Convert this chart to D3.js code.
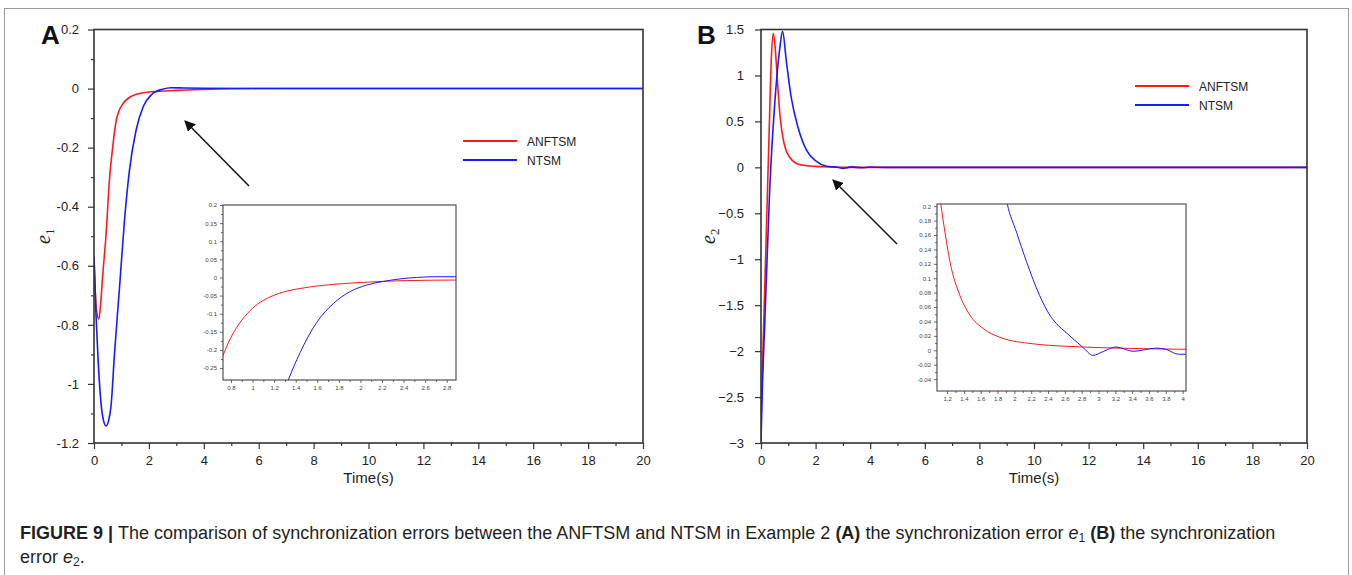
<!DOCTYPE html>
<html>
<head>
<meta charset="utf-8">
<script src="https://cdn.jsdelivr.net/npm/d3@7"></script>
<style>
  body { margin: 0; background: #fff; }
  svg { display: block; font-family: "Liberation Sans", Arial, sans-serif; }
</style>
</head>
<body>
<svg id="figure" width="1352" height="575"></svg>
<script>
// ---- data ----
var timeTicks = [0, 2, 4, 6, 8, 10, 12, 14, 16, 18, 20];
var timeMinor = [1, 3, 5, 7, 9, 11, 13, 15, 17, 19];

// panel A : e1
var e1Ticks = [0.2, 0, -0.2, -0.4, -0.6, -0.8, -1, -1.2];
var e1TickLabels = ['0.2', '0', '-0.2', '-0.4', '-0.6', '-0.8', '-1', '-1.2'];
var e1Minor = [0.1, -0.1, -0.3, -0.5, -0.7, -0.9, -1.1];

var anftsmE1Time = [0, 0.08, 0.175, 0.25, 0.32, 0.44, 0.56, 0.68, 0.81, 1.05, 1.41, 1.8, 2.38, 3, 4, 6, 20];
var anftsmE1 = [-0.57, -0.74, -0.781, -0.72, -0.63, -0.493, -0.312, -0.199, -0.108, -0.052, -0.024, -0.014, -0.009, -0.006, -0.003, 0, 0];
var ntsmE1Time = [0, 0.07, 0.14, 0.26, 0.35, 0.44, 0.53, 0.625, 0.745, 0.93, 1.11, 1.29, 1.53, 1.8, 2.1, 2.5, 2.8, 3.3, 4, 6, 20];
var ntsmE1 = [-0.57, -0.76, -0.9, -1.07, -1.125, -1.142, -1.125, -1.07, -0.9, -0.673, -0.447, -0.278, -0.142, -0.06, -0.02, -0.002, 0.003, 0.002, 0.001, 0, 0];

// inset of panel A
var insetATicks = [0.8, 1, 1.2, 1.4, 1.6, 1.8, 2, 2.2, 2.4, 2.6, 2.8];
var insetATickLabels = ['0.8', '1', '1.2', '1.4', '1.6', '1.8', '2', '2.2', '2.4', '2.6', '2.8'];
var insetAValTicks = [0.2, 0.15, 0.1, 0.05, 0, -0.05, -0.1, -0.15, -0.2, -0.25];
var insetAValLabels = ['0.2', '0.15', '0.1', '0.05', '0', '-0.05', '-0.1', '-0.15', '-0.2', '-0.25'];
var anftsmInsetATime = [0.7, 0.8, 0.9, 1.0, 1.1, 1.2, 1.3, 1.45, 1.75, 2.06, 2.37, 2.9];
var anftsmInsetA = [-0.235, -0.165, -0.118, -0.085, -0.063, -0.049, -0.039, -0.030, -0.019, -0.013, -0.009, -0.007];
var ntsmInsetATime = [1.3, 1.327, 1.44, 1.595, 1.749, 1.904, 2.058, 2.212, 2.366, 2.52, 2.675, 2.9];
var ntsmInsetA = [-0.31, -0.287, -0.208, -0.124, -0.072, -0.039, -0.021, -0.011, -0.004, 0, 0.002, 0.002];

// panel B : e2
var e2Ticks = [1.5, 1, 0.5, 0, -0.5, -1, -1.5, -2, -2.5, -3];
var e2TickLabels = ['1.5', '1', '0.5', '0', '\u22120.5', '\u22121', '\u22121.5', '\u22122', '\u22122.5', '\u22123'];

var anftsmE2Time = [0, 0.1, 0.2, 0.3, 0.38, 0.45, 0.52, 0.6, 0.7, 0.8, 0.9, 1.05, 1.25, 1.5, 2, 2.5, 3, 4, 20];
var anftsmE2 = [-2.75, -1.7, -0.65, 0.4, 1.2, 1.46, 1.3, 0.95, 0.55, 0.33, 0.2, 0.11, 0.05, 0.025, 0.01, 0.005, 0, 0, 0];
var ntsmE2Time = [0, 0.05, 0.14, 0.32, 0.5, 0.69, 0.79, 0.93, 1.11, 1.36, 1.66, 2.03, 2.4, 2.8, 3.0, 3.3, 3.7, 4.0, 4.5, 6, 20];
var ntsmE2 = [-2.98, -2.4, -1.68, -0.23, 0.68, 1.30, 1.48, 1.15, 0.755, 0.43, 0.19, 0.065, 0.011, 0, -0.012, 0.005, -0.005, 0.003, 0, 0, 0];

// inset of panel B
var insetBTicks = [1.2, 1.4, 1.6, 1.8, 2, 2.2, 2.4, 2.6, 2.8, 3, 3.2, 3.4, 3.6, 3.8, 4];
var insetBTickLabels = ['1.2', '1.4', '1.6', '1.8', '2', '2.2', '2.4', '2.6', '2.8', '3', '3.2', '3.4', '3.6', '3.8', '4'];
var insetBValTicks = [0.2, 0.18, 0.16, 0.14, 0.12, 0.1, 0.08, 0.06, 0.04, 0.02, 0, -0.02, -0.04];
var insetBValLabels = ['0.2', '0.18', '0.16', '0.14', '0.12', '0.1', '0.08', '0.06', '0.04', '0.02', '0', '-0.02', '-0.04'];
var anftsmInsetBTime = [1.1, 1.124, 1.18, 1.234, 1.353, 1.47, 1.63, 1.83, 2.22, 2.81, 3.4, 4.04];
var anftsmInsetB = [0.225, 0.204, 0.16, 0.123, 0.076, 0.049, 0.030, 0.018, 0.009, 0.0046, 0.0025, 0.0014];
var ntsmInsetBTime = [1.88, 1.914, 2.025, 2.144, 2.30, 2.42, 2.50, 2.62, 2.81, 2.934, 3.05, 3.21, 3.41, 3.69, 3.80, 3.95, 4.04];
var ntsmInsetB = [0.225, 0.204, 0.164, 0.123, 0.076, 0.049, 0.037, 0.024, 0.0046, -0.007, -0.002, 0.0046, -0.0014, 0.003, 0.0014, -0.0055, -0.0055];

var seriesNames = ['ANFTSM', 'NTSM'];
var seriesColors = ['#ff1a1a', '#1a1aff'];

// ---- drawing ----
var svg = d3.select('#figure');
var defs = svg.append('defs');

defs.append('marker')
  .attr('id', 'arrowhead')
  .attr('viewBox', '0 0 10 10')
  .attr('refX', 9).attr('refY', 5)
  .attr('markerWidth', 11).attr('markerHeight', 11)
  .attr('markerUnits', 'userSpaceOnUse')
  .attr('orient', 'auto')
  .append('path')
  .attr('d', 'M0,0 L10,5 L0,10 Z')
  .attr('fill', '#111');

// outer grey frame
svg.append('rect')
  .attr('x', 4.5).attr('y', 8.5)
  .attr('width', 1344).attr('height', 600)
  .attr('fill', 'none')
  .attr('stroke', '#9a9a9a')
  .attr('stroke-width', 1);

var clipCount = 0;

var pairs = function(xs, ys) {
  return xs.map(function(t, i) { return [t, ys[i]]; });
};

var drawAxes = function(g, opts) {
  var x = opts.x, y = opts.y;
  var h = y.range()[0];

  // minor ticks
  g.append('g')
    .attr('transform', 'translate(0,' + h + ')')
    .call(d3.axisBottom(x).tickValues(opts.xMinor).tickSize(opts.minorSize).tickFormat(''))
    .call(function(a) { a.select('.domain').remove(); });
  if (opts.yMinor) {
    g.append('g')
      .call(d3.axisLeft(y).tickValues(opts.yMinor).tickSize(opts.minorSize).tickFormat(''))
      .call(function(a) { a.select('.domain').remove(); });
  }

  // major ticks and labels
  var xa = g.append('g')
    .attr('class', 'x-axis')
    .attr('transform', 'translate(0,' + h + ')')
    .call(d3.axisBottom(x).tickValues(opts.xTicks).tickSize(opts.majorSize)
      .tickPadding(opts.xPad)
      .tickFormat(function(d, i) { return opts.xLabels[i]; }));
  var ya = g.append('g')
    .attr('class', 'y-axis')
    .call(d3.axisLeft(y).tickValues(opts.yTicks).tickSize(opts.majorSize)
      .tickPadding(opts.yPad)
      .tickFormat(function(d, i) { return opts.yLabels[i]; }));

  [xa, ya].forEach(function(a) {
    a.select('.domain').remove();
    a.attr('font-family', null).attr('font-size', null);
    a.selectAll('text').attr('font-size', opts.fontSize).attr('fill', opts.textColor);
  });
  g.selectAll('.tick line').attr('stroke', opts.axisColor).attr('stroke-width', opts.tickWidth);

  // box
  g.append('rect')
    .attr('x', 0).attr('y', 0)
    .attr('width', x.range()[1]).attr('height', h)
    .attr('fill', 'none')
    .attr('stroke', opts.axisColor)
    .attr('stroke-width', opts.boxWidth);
};

var drawLines = function(g, x, y, lines, width) {
  var id = 'clip' + (clipCount++);
  defs.append('clipPath').attr('id', id)
    .append('rect')
    .attr('width', x.range()[1]).attr('height', y.range()[0]);

  var line = d3.line()
    .x(function(d) { return x(d[0]); })
    .y(function(d) { return y(d[1]); })
    .curve(d3.curveMonotoneX);

  g.append('g')
    .attr('clip-path', 'url(#' + id + ')')
    .selectAll('path')
    .data(lines)
    .enter().append('path')
    .attr('d', function(l) { return line(l.points); })
    .attr('fill', 'none')
    .attr('stroke', function(l) { return l.color; })
    .attr('stroke-width', width)
    .attr('stroke-linejoin', 'round');
};

var drawPanel = function(p) {
  var g = svg.append('g').attr('transform', 'translate(' + p.left + ',' + p.top + ')');
  var x = d3.scaleLinear().domain([0, 20]).range([0, p.width]);
  var y = d3.scaleLinear().domain(p.yDomain).range([p.height, 0]);

  drawLines(g, x, y, [
    { color: seriesColors[0], points: pairs(p.anftsmTime, p.anftsm) },
    { color: seriesColors[1], points: pairs(p.ntsmTime, p.ntsm) }
  ], 1.6);

  drawAxes(g, {
    x: x, y: y,
    xTicks: timeTicks, xLabels: timeTicks.map(String), xMinor: timeMinor,
    yTicks: p.yTicks, yLabels: p.yLabels, yMinor: p.yMinor,
    majorSize: 6, minorSize: 3, xPad: 7, yPad: p.yPad,
    fontSize: 13, textColor: '#222', axisColor: '#333',
    tickWidth: 1.2, boxWidth: 1.6
  });

  // axis titles
  g.append('text')
    .attr('x', p.width / 2).attr('y', p.height + 40)
    .attr('text-anchor', 'middle')
    .attr('font-size', 15).attr('fill', '#222')
    .text('Time(s)');

  var yl = g.append('text')
    .attr('transform', 'translate(' + p.yTitleX + ',' + (p.height / 2) + ') rotate(-90)')
    .attr('text-anchor', 'middle')
    .attr('font-family', '"Liberation Serif", "DejaVu Serif", serif')
    .attr('font-size', 20).attr('fill', '#222');
  yl.append('tspan').attr('font-style', 'italic').text('e');
  yl.append('tspan').attr('font-size', 13).attr('dy', 4).text(p.yIndex);

  // panel letter
  svg.append('text')
    .attr('x', p.letterX).attr('y', 44)
    .attr('font-size', 26).attr('font-weight', 'bold').attr('fill', '#111')
    .text(p.letter);

  // legend
  var lg = svg.append('g').attr('transform', 'translate(' + p.legendX + ',' + p.legendY + ')');
  seriesNames.forEach(function(name, i) {
    lg.append('line')
      .attr('x1', 0).attr('x2', p.legendLen)
      .attr('y1', i * p.legendGap).attr('y2', i * p.legendGap)
      .attr('stroke', seriesColors[i]).attr('stroke-width', 1.8);
    lg.append('text')
      .attr('x', p.legendLen + 10).attr('y', i * p.legendGap + 4.5)
      .attr('font-size', 12).attr('fill', '#222')
      .text(name);
  });

  // arrow pointing at the zoomed region
  svg.append('line')
    .attr('x1', p.arrow[0]).attr('y1', p.arrow[1])
    .attr('x2', p.arrow[2]).attr('y2', p.arrow[3])
    .attr('stroke', '#111').attr('stroke-width', 1.5)
    .attr('marker-end', 'url(#arrowhead)');

  // inset
  var ins = p.inset;
  var ig = svg.append('g').attr('transform', 'translate(' + ins.left + ',' + ins.top + ')');
  ig.append('rect').attr('width', ins.width).attr('height', ins.height).attr('fill', '#fff');
  var ix = d3.scaleLinear().domain(ins.xDomain).range([0, ins.width]);
  var iy = d3.scaleLinear().domain(ins.yDomain).range([ins.height, 0]);
  drawLines(ig, ix, iy, [
    { color: seriesColors[0], points: pairs(ins.anftsmTime, ins.anftsm) },
    { color: seriesColors[1], points: pairs(ins.ntsmTime, ins.ntsm) }
  ], 1);
  drawAxes(ig, {
    x: ix, y: iy,
    xTicks: ins.xTicks, xLabels: ins.xLabels, xMinor: ins.xMinor,
    yTicks: ins.yTicks, yLabels: ins.yLabels, yMinor: ins.yMinor,
    majorSize: 3, minorSize: 2, xPad: 3, yPad: 3,
    fontSize: 6, textColor: '#444', axisColor: '#444',
    tickWidth: 0.8, boxWidth: 1.1
  });
};

var halfSteps = function(ticks) {
  var out = [];
  for (var i = 0; i < ticks.length - 1; i++) out.push((ticks[i] + ticks[i + 1]) / 2);
  return out;
};

drawPanel({
  letter: 'A', letterX: 41, left: 94, top: 29.5, width: 549, height: 413.5,
  yDomain: [-1.2, 0.2], yTicks: e1Ticks, yLabels: e1TickLabels, yMinor: e1Minor, yPad: 9,
  yIndex: '1', yTitleX: -44,
  anftsmTime: anftsmE1Time, anftsm: anftsmE1, ntsmTime: ntsmE1Time, ntsm: ntsmE1,
  legendX: 463, legendY: 141, legendLen: 54, legendGap: 19,
  arrow: [249, 186, 185, 121],
  inset: {
    left: 223, top: 205, width: 233, height: 175,
    xDomain: [0.726, 2.886], yDomain: [-0.283, 0.2],
    xTicks: insetATicks, xLabels: insetATickLabels, xMinor: halfSteps(insetATicks),
    yTicks: insetAValTicks, yLabels: insetAValLabels, yMinor: halfSteps(insetAValTicks),
    anftsmTime: anftsmInsetATime, anftsm: anftsmInsetA, ntsmTime: ntsmInsetATime, ntsm: ntsmInsetA
  }
});

drawPanel({
  letter: 'B', letterX: 697, left: 761, top: 29.5, width: 546, height: 413.5,
  yDomain: [-3, 1.5], yTicks: e2Ticks, yLabels: e2TickLabels, yMinor: null, yPad: 11,
  yIndex: '2', yTitleX: -46,
  anftsmTime: anftsmE2Time, anftsm: anftsmE2, ntsmTime: ntsmE2Time, ntsm: ntsmE2,
  legendX: 1135, legendY: 86, legendLen: 54, legendGap: 19,
  arrow: [897, 244, 833, 180],
  inset: {
    left: 937, top: 204, width: 249, height: 187,
    xDomain: [1.08, 4.04], yDomain: [-0.0565, 0.203],
    xTicks: insetBTicks, xLabels: insetBTickLabels, xMinor: halfSteps(insetBTicks),
    yTicks: insetBValTicks, yLabels: insetBValLabels, yMinor: halfSteps(insetBValTicks),
    anftsmTime: anftsmInsetBTime, anftsm: anftsmInsetB, ntsmTime: ntsmInsetBTime, ntsm: ntsmInsetB
  }
});

// ---- caption ----
var cap = svg.append('g').attr('font-size', 18).attr('fill', '#231f20');
var l1 = cap.append('text').attr('x', 20).attr('y', 539);
l1.append('tspan').attr('font-weight', 'bold').text('FIGURE 9 | ');
l1.append('tspan').text('The comparison of synchronization errors between the ANFTSM and NTSM in Example 2 ');
l1.append('tspan').attr('font-weight', 'bold').text('(A)');
l1.append('tspan').text(' the synchronization error ');
l1.append('tspan').attr('font-style', 'italic').text('e');
l1.append('tspan').attr('font-size', 12).attr('dy', 3).text('1');
l1.append('tspan').attr('dy', -3).text(' ');
l1.append('tspan').attr('font-weight', 'bold').text('(B)');
l1.append('tspan').text(' the synchronization');

var l2 = cap.append('text').attr('x', 20).attr('y', 563);
l2.append('tspan').text('error ');
l2.append('tspan').attr('font-style', 'italic').text('e');
l2.append('tspan').attr('font-size', 12).attr('dy', 3).text('2');
l2.append('tspan').attr('dy', -3).text('.');
</script>
</body>
</html>
